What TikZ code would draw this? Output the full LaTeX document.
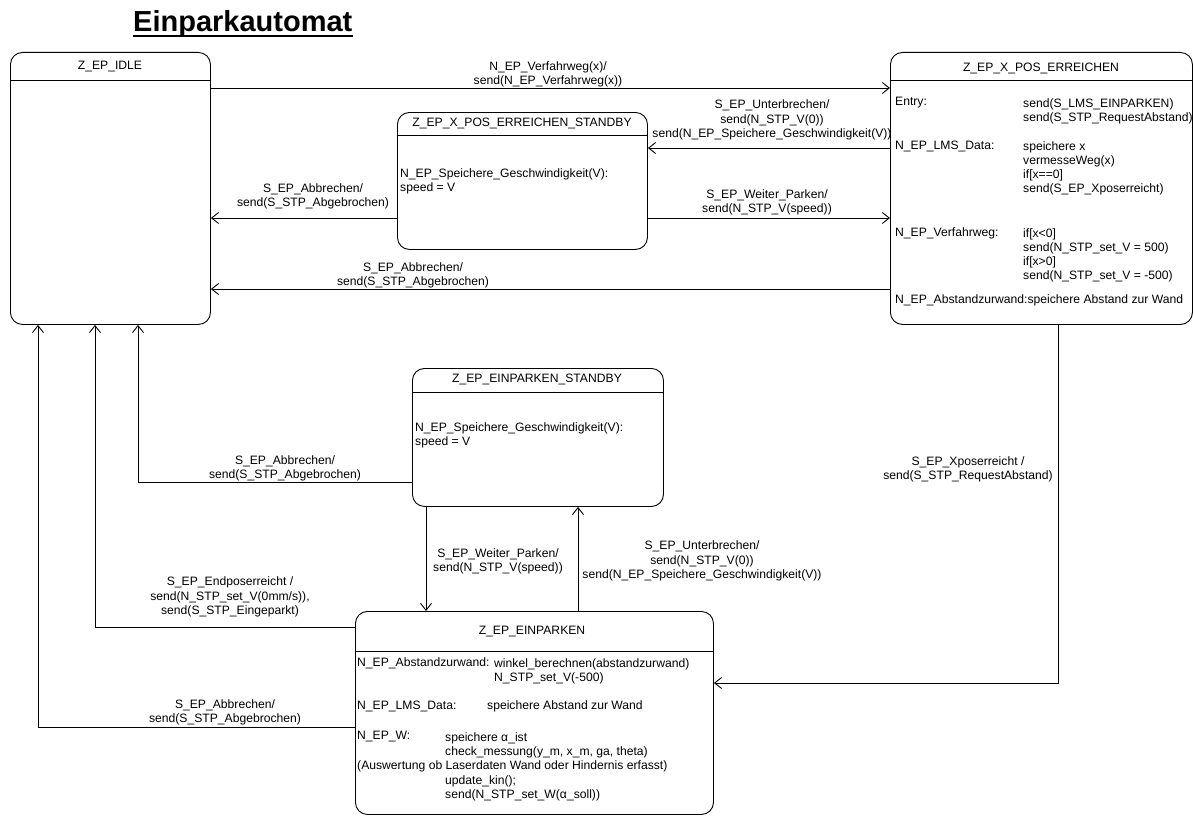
\documentclass[tikz,border=0pt]{standalone}
\usepackage{fontspec}
\setmainfont{Liberation Sans}
\usetikzlibrary{arrows.meta}
\newcommand\lblfont{\fontsize{12.15}{14.2}\selectfont}
\begin{document}
\begin{tikzpicture}[x=1pt,y=-1pt,
  state/.style={draw, line width=0.9pt, rounded corners=12pt, anchor=north west, inner sep=0pt},
  sepline/.style={line width=0.9pt},
  arr/.style={draw, line width=0.9pt, -{Straight Barb[length=7pt,width=11pt,line width=0.9pt]}},
  lbl/.style={font=\lblfont, align=center, inner sep=0pt},
  txt/.style={font=\lblfont, align=left, inner sep=0pt, anchor=north west},
  hd/.style={font=\lblfont, inner sep=0pt}
]
\useasboundingbox (0,0) rectangle (1193,816);

% title
\node[font=\bfseries\fontsize{29}{34}\selectfont, inner sep=0pt, anchor=base west] (title) at (133,32) {Einparkautomat};
\draw[line width=1.8pt] ([yshift=-4pt]title.base west) -- ([yshift=-4pt]title.base east);

% states
\node[state, minimum width=200pt, minimum height=272pt] (idle) at (10,52) {};
\draw[sepline] (idle.west |- 0,80) -- (idle.east |- 0,80);
\node[hd] (idleT) at (110,67) {Z\_EP\_IDLE};

\node[state, minimum width=302pt, minimum height=272pt] (xpos) at (890,52) {};
\draw[sepline] (xpos.west |- 0,80) -- (xpos.east |- 0,80);
\node[hd] (xposT) at (1041,68) {Z\_EP\_X\_POS\_ERREICHEN};

\node[state, minimum width=250pt, minimum height=137pt] (xstb) at (397,112) {};
\draw[sepline] (xstb.west |- 0,135) -- (xstb.east |- 0,135);
\node[hd] (xstbT) at (522,123) {Z\_EP\_X\_POS\_ERREICHEN\_STANDBY};

\node[state, minimum width=251pt, minimum height=138pt] (estb) at (412,368) {};
\draw[sepline] (estb.west |- 0,392) -- (estb.east |- 0,392);
\node[hd] (estbT) at (537,379) {Z\_EP\_EINPARKEN\_STANDBY};

\node[state, minimum width=358pt, minimum height=203pt] (einp) at (355,611) {};
\draw[sepline] (einp.west |- 0,651) -- (einp.east |- 0,651);
\node[hd] (einpT) at (532,632) {Z\_EP\_EINPARKEN};

% state contents
\node[txt, anchor=west] (xa1) at (895,103) {Entry:};
\node[txt] (xb1) at (1023,98) {send(S\_LMS\_EINPARKEN)\\send(S\_STP\_RequestAbstand)};
\node[txt, anchor=west] (xa2) at (895,146) {N\_EP\_LMS\_Data:};
\node[txt] (xb2) at (1023,141) {speichere x\\vermesseWeg(x)\\if[x==0]\\send(S\_EP\_Xposerreicht)};
\node[txt, anchor=west] (xa3) at (895,233) {N\_EP\_Verfahrweg:};
\node[txt] (xb3) at (1023,228) {if[x<0]\\send(N\_STP\_set\_V = 500)\\if[x>0]\\send(N\_STP\_set\_V = -500)};
\node[txt, anchor=west] (xa4) at (895,300) {N\_EP\_Abstandzurwand:speichere Abstand zur Wand};

\node[txt] (xs1) at (400,168) {N\_EP\_Speichere\_Geschwindigkeit(V):\\speed = V};
\node[txt] (es1) at (415,422) {N\_EP\_Speichere\_Geschwindigkeit(V):\\speed = V};

\node[txt, anchor=west] (ea1) at (357,663) {N\_EP\_Abstandzurwand:};
\node[txt] (eb1) at (494,658) {winkel\_berechnen(abstandzurwand)\\N\_STP\_set\_V(-500)};
\node[txt, anchor=west] (ea2) at (357,706) {N\_EP\_LMS\_Data:};
\node[txt, anchor=west] (eb2) at (487,706) {speichere Abstand zur Wand};
\node[txt, anchor=west] (ea3) at (357,737) {N\_EP\_W:};
\node[txt] (eb3) at (445,732) {speichere α\_ist\\check\_messung(y\_m, x\_m, ga, theta)};
\node[txt, anchor=west] (ea4) at (357,766) {(Auswertung ob Laserdaten Wand oder Hindernis erfasst)};
\node[txt] (eb4) at (445,775) {update\_kin();\\send(N\_STP\_set\_W(α\_soll))};

% transitions
\draw[arr] (idle.east |- 0,88) -- (xpos.west |- 0,88);
\draw[arr] (xpos.west |- 0,148) -- (xstb.east |- 0,148);
\draw[arr] (xstb.east |- 0,218) -- (xpos.west |- 0,218);
\draw[arr] (xstb.west |- 0,218) -- (idle.east |- 0,218);
\draw[arr] (xpos.west |- 0,289) -- (idle.east |- 0,289);
\draw[arr] (xpos.south -| 1058,0) |- (einp.east |- 0,683);
\draw[arr] (estb.west |- 0,482) -| (idle.south -| 138,0);
\draw[arr] (estb.south -| 426,0) -- (einp.north -| 426,0);
\draw[arr] (einp.north -| 578,0) -- (estb.south -| 578,0);
\draw[arr] (einp.west |- 0,627) -| (idle.south -| 95,0);
\draw[arr] (einp.west |- 0,727) -| (idle.south -| 38,0);

% transition labels
\node[lbl] (l1) at (548,74) {N\_EP\_Verfahrweg(x)/\\send(N\_EP\_Verfahrweg(x))};
\node[lbl] (l2) at (772,120) {S\_EP\_Unterbrechen/\\send(N\_STP\_V(0))\\send(N\_EP\_Speichere\_Geschwindigkeit(V))};
\node[lbl] (l3) at (767,202) {S\_EP\_Weiter\_Parken/\\send(N\_STP\_V(speed))};
\node[lbl] (l4) at (313,196) {S\_EP\_Abbrechen/\\send(S\_STP\_Abgebrochen)};
\node[lbl] (l5) at (413,275) {S\_EP\_Abbrechen/\\send(S\_STP\_Abgebrochen)};
\node[lbl] (l6) at (968,469) {S\_EP\_Xposerreicht /\\send(S\_STP\_RequestAbstand)};
\node[lbl] (l7) at (285,468) {S\_EP\_Abbrechen/\\send(S\_STP\_Abgebrochen)};
\node[lbl] (l8) at (498,561) {S\_EP\_Weiter\_Parken/\\send(N\_STP\_V(speed))};
\node[lbl] (l9) at (702,561) {S\_EP\_Unterbrechen/\\send(N\_STP\_V(0))\\send(N\_EP\_Speichere\_Geschwindigkeit(V))};
\node[lbl] (l10) at (230,597) {S\_EP\_Endposerreicht /\\send(N\_STP\_set\_V(0mm/s)),\\send(S\_STP\_Eingeparkt)};
\node[lbl] (l11) at (225,712) {S\_EP\_Abbrechen/\\send(S\_STP\_Abgebrochen)};
\end{tikzpicture}
\end{document}
